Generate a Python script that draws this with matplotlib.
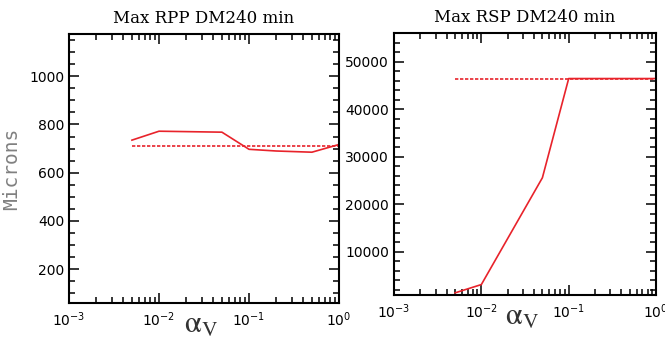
import matplotlib
matplotlib.use("Agg")
import matplotlib.pyplot as plt
from matplotlib.ticker import MultipleLocator, LogLocator, NullFormatter

# Data
alpha = [5e-3, 1e-2, 5e-2, 1e-1, 2e-1, 5e-1, 1.0]
rpp_max = [735, 772, 768, 697, 690, 685, 717]
rpp_ref = 712
rsp_alpha = [5e-3, 1e-2, 5e-2, 1e-1, 2e-1, 5e-1, 1.0]
rsp_max = [1350, 3100, 25600, 46500, 46500, 46500, 46500]
rsp_ref = 46500
ref_span = [5e-3, 1.0]

RED = "#e8232b"
TITLE_FONT = "DejaVu Serif"
plt.rcParams["mathtext.fontset"] = "stix"

fig = plt.figure(figsize=(6.65, 3.41), dpi=100)
ax1 = fig.add_axes([0.1038, 0.1114, 0.406, 0.789])
ax2 = fig.add_axes([0.5925, 0.1349, 0.394, 0.767])


def style(ax, major, minor, label_y):
    ax.set_xscale("log")
    ax.set_xlim(1e-3, 1.0)
    ax.xaxis.set_major_locator(LogLocator(base=10, numticks=10))
    ax.xaxis.set_minor_locator(LogLocator(base=10, subs=range(2, 10), numticks=20))
    ax.xaxis.set_minor_formatter(NullFormatter())
    ax.yaxis.set_major_locator(MultipleLocator(major))
    ax.yaxis.set_minor_locator(MultipleLocator(minor))
    ax.tick_params(which="both", direction="in", top=True, right=True,
                   labelsize=10, width=1.1)
    ax.tick_params(which="major", length=7)
    ax.tick_params(which="minor", length=4)
    ax.tick_params(axis="x", pad=5)
    for s in ax.spines.values():
        s.set_linewidth(1.5)
    ax.text(0.49, label_y, r"$\mathrm{\alpha}_{\rm V}$", fontsize=22, color="#333333",
            transform=ax.transAxes, ha="center", va="baseline")


# Left panel: RPP
ax1.plot(alpha, rpp_max, color=RED, lw=1.2)
ax1.plot(ref_span, [rpp_ref, rpp_ref], color=RED, lw=1.2, linestyle=(0, (2, 1)))
style(ax1, 200, 50, -0.112)
ax1.set_ylim(60, 1175)
ax1.set_title("Max RPP DM240 min", fontsize=12, family=TITLE_FONT, pad=8)
ax1.set_ylabel("Microns", fontsize=14, family="DejaVu Sans Mono", color="#808080",
               labelpad=6)

# Right panel: RSP
ax2.plot(rsp_alpha, rsp_max, color=RED, lw=1.2)
ax2.plot(ref_span, [rsp_ref, rsp_ref], color=RED, lw=1.2, linestyle=(0, (2, 1)))
style(ax2, 10000, 2000, -0.115)
ax2.set_ylim(900, 56000)
ax2.set_title("Max RSP DM240 min", fontsize=12, family=TITLE_FONT, pad=8)

fig.savefig("out.png", dpi=100, facecolor="white")
